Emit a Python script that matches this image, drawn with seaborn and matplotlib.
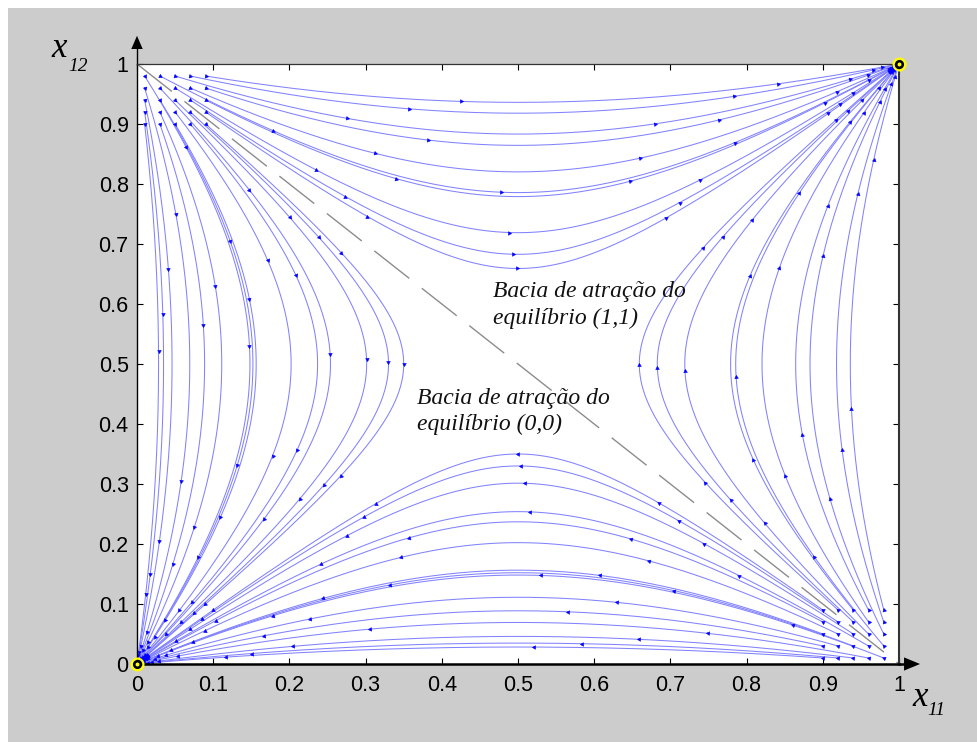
import numpy as np
import pandas as pd
import matplotlib.pyplot as plt
import seaborn as sns
from matplotlib.patches import Polygon, Rectangle

# starting points of the trajectories (the two grids of dots near (0,1) and (1,0))
x0_topleft = [0.01, 0.03, 0.05, 0.07, 0.09]
y0_topleft = [0.98, 0.96, 0.94, 0.92, 0.90]
x0_botright = [0.90, 0.92, 0.94, 0.96, 0.98]
y0_botright = [0.01, 0.03, 0.05, 0.07, 0.09]

# stable equilibria (yellow rings)
eq_x = [0, 1]
eq_y = [0, 1]

# separatrix x11 + x12 = 1 (dashed)
sep_x = [0, 1]
sep_y = [1, 0]

ticks = [0, 0.1, 0.2, 0.3, 0.4, 0.5, 0.6, 0.7, 0.8, 0.9, 1]
tick_labels = ['0', '0.1', '0.2', '0.3', '0.4', '0.5', '0.6', '0.7', '0.8', '0.9', '1']

basin_11 = ['Bacia de atração do', 'equilíbrio (1,1)']
basin_00 = ['Bacia de atração do', 'equilíbrio (0,0)']


def field(x, y):
    # replicator dynamics of the symmetric coordination game
    return x * (1 - x) * (2 * y - 1), y * (1 - y) * (2 * x - 1)


def trajectory(x, y, dt=0.02, tmax=40):
    target = 1.0 if x + y > 1 else 0.0
    pts = [(0.0, x, y)]
    t = 0.0
    while t < tmax:
        k1 = field(x, y)
        k2 = field(x + dt / 2 * k1[0], y + dt / 2 * k1[1])
        k3 = field(x + dt / 2 * k2[0], y + dt / 2 * k2[1])
        k4 = field(x + dt * k3[0], y + dt * k3[1])
        x = x + dt / 6 * (k1[0] + 2 * k2[0] + 2 * k3[0] + k4[0])
        y = y + dt / 6 * (k1[1] + 2 * k2[1] + 2 * k3[1] + k4[1])
        t += dt
        pts.append((t, x, y))
        if np.hypot(x - target, y - target) < 0.003:
            break
    return np.array(pts)


starts = [(a, b) for a in x0_topleft for b in y0_topleft] + \
         [(a, b) for a in x0_botright for b in y0_botright]

frames = []
trajs = []
for i, (a, b) in enumerate(starts):
    tr = trajectory(a, b)
    trajs.append(tr)
    frames.append(pd.DataFrame({'t': tr[:, 0], 'x': tr[:, 1], 'y': tr[:, 2], 'traj': i}))
df = pd.concat(frames, ignore_index=True)

plt.rcParams['font.family'] = 'Liberation Sans'

fig = plt.figure(figsize=(9.78, 7.42), dpi=100)
fig.patch.set_facecolor('white')
fig.add_artist(Rectangle((8 / 978, 0), 1 - 8 / 978, 734 / 742, transform=fig.transFigure,
                         facecolor='#cccccc', edgecolor='none', zorder=-5))

ax = fig.add_axes([137 / 978, 78 / 742, 762 / 978, 600 / 742])
ax.set_facecolor('white')

sns.lineplot(data=df, x='x', y='y', units='traj', estimator=None, sort=False,
             color='#8282ff', linewidth=0.75, legend=False, ax=ax)

ax.plot(sep_x, sep_y, color='#8c8c8c', linewidth=1.0, dashes=(32, 11.5))

ax.set_xlim(0, 1)
ax.set_ylim(0, 1)
ax.set_xlabel('')
ax.set_ylabel('')

# arrowheads along the trajectories, every dt_arrow time units
sx, sy = 762, 600
dt_arrow = 2.2
for tr in trajs:
    tmax = tr[-1, 0]
    for ta in np.arange(0, tmax, dt_arrow):
        k = int(np.argmin(np.abs(tr[:, 0] - ta)))
        px, py = tr[k, 1], tr[k, 2]
        u, v = field(px, py)
        ang = np.degrees(np.arctan2(v * sy, u * sx))
        ax.plot(px, py, marker=(3, 0, ang - 90), markersize=3.0, color='#0000ff',
                markeredgewidth=0.4, linestyle='none')

# equilibria
ax.plot(eq_x, eq_y, 'o', markersize=8.5, markerfacecolor='none', markeredgecolor='#ffff00',
        markeredgewidth=1.6, clip_on=False, zorder=5)
ax.plot(eq_x, eq_y, 'o', markersize=5.5, color='black', clip_on=False, zorder=6)
ax.plot(eq_x, eq_y, 'o', markersize=1.8, color='#ffff00', clip_on=False, zorder=7)

ax.set_xticks(ticks)
ax.set_xticklabels(tick_labels)
ax.set_yticks(ticks)
ax.set_yticklabels(tick_labels)
ax.tick_params(axis='both', direction='in', top=True, right=True, length=4.5, width=0.8,
               labelsize=15.5, colors='black')
ax.tick_params(axis='x', pad=8)
ax.tick_params(axis='y', pad=6)

ax.spines['left'].set_linewidth(1.0)
ax.spines['left'].set_color('black')
ax.spines['bottom'].set_linewidth(1.8)
ax.spines['bottom'].set_color('black')
ax.spines['top'].set_linewidth(0.9)
ax.spines['top'].set_color('#333333')
ax.spines['right'].set_linewidth(1.5)
ax.spines['right'].set_color('#333333')

# axis arrows
ax.plot([0, 0], [1, 1.025], color='black', linewidth=1.0, clip_on=False)
ax.add_patch(Polygon([[-0.0075, 1.025], [0.0075, 1.025], [0, 1.047]], closed=True,
                     facecolor='black', edgecolor='none', clip_on=False))
ax.plot([1, 1.0066], [0, 0], color='black', linewidth=1.8, clip_on=False)
ax.add_patch(Polygon([[1.0066, -0.011], [1.0066, 0.011], [1.0276, 0]], closed=True,
                     facecolor='black', edgecolor='none', clip_on=False))

# basin labels
serif = dict(family='Liberation Serif', style='italic', size=17, color='#111111')
ax.text(0.467, 0.611, basin_11[0], va='baseline', ha='left', **serif)
ax.text(0.467, 0.567, basin_11[1], va='baseline', ha='left', **serif)
ax.text(0.367, 0.434, basin_00[0], va='baseline', ha='left', **serif)
ax.text(0.367, 0.390, basin_00[1], va='baseline', ha='left', **serif)

# axis names
fig.text(51 / 978, (742 - 57) / 742, 'x', family='Liberation Serif', style='italic', size=25,
         va='baseline', ha='left')
fig.text(68 / 978, (742 - 71) / 742, '12', family='Liberation Serif', style='italic', size=14,
         va='baseline', ha='left')
fig.text(912 / 978, (742 - 706) / 742, 'x', family='Liberation Serif', style='italic', size=25,
         va='baseline', ha='left')
fig.text(927 / 978, (742 - 715) / 742, '11', family='Liberation Serif', style='italic', size=14,
         va='baseline', ha='left')

fig.savefig('out.png', dpi=100)
